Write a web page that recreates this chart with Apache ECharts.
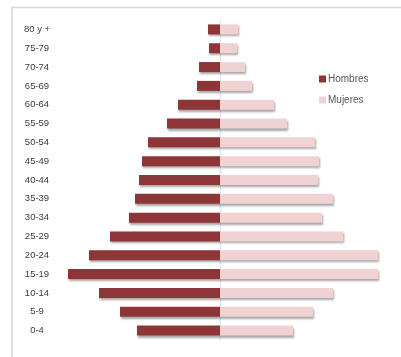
<!DOCTYPE html>
<html><head><meta charset="utf-8">
<script src="https://cdn.jsdelivr.net/npm/echarts@6/dist/echarts.min.js"></script>
<style>html,body{margin:0;padding:0;background:#fff}#c{width:401px;height:357px}</style>
</head><body><div id="c"></div>
<script>
var categories = ['0-4','5-9','10-14','15-19','20-24','25-29','30-34','35-39','40-44','45-49','50-54','55-59','60-64','65-69','70-74','75-79','80 y +'];
var hombres = [83,100,121,152,131,110,91,85,81,78,72,53,42,23,21,11,12];
var mujeres = [73,93,113,158,158,123,102,113,98,99,95,67,54,32,25,17,18];

var chart = echarts.init(document.getElementById('c'), null, {renderer:'canvas'});
var shadow = {shadowColor:'rgba(0,0,0,0.35)', shadowBlur:2, shadowOffsetX:1, shadowOffsetY:2};
chart.setOption({
  animation:false,
  backgroundColor:'#fff',
  graphic:[{type:'polyline', shape:{points:[[12,357],[12,7.5],[401,7.5]]}, style:{stroke:'#d6d6d6', lineWidth:1.5, fill:null}, silent:true}],
  legend:{
    orient:'vertical', left:314, top:69, itemWidth:7, itemHeight:7, itemGap:11, icon:'rect',
    textStyle:{fontSize:10, color:'#555', fontFamily:'Liberation Sans', padding:[0,0,0,-3]},
    data:['Hombres','Mujeres']
  },
  grid:{left:20, top:20, width:380, height:320, containLabel:false},
  xAxis:{type:'value', min:-200, max:180, show:false},
  yAxis:{type:'category', data:categories, position:'left',
    axisLine:{show:true, lineStyle:{color:'#dde3ec', width:1}},
    axisTick:{show:false},
    axisLabel:{inside:true, align:'center', margin:17, fontSize:9.5, color:'#3a3a3a', fontFamily:'Liberation Sans'},
    splitLine:{show:false}
  },
  series:[
    {name:'Hombres', type:'bar', barWidth:10, barGap:'-100%', data:hombres.map(function(v){return -v;}),
     itemStyle:Object.assign({color:'#8e3538'}, shadow)},
    {name:'Mujeres', type:'bar', barWidth:10, barGap:'-100%', data:mujeres,
     itemStyle:Object.assign({color:'#f1d2d2'}, shadow)}
  ]
});
</script></body></html>
